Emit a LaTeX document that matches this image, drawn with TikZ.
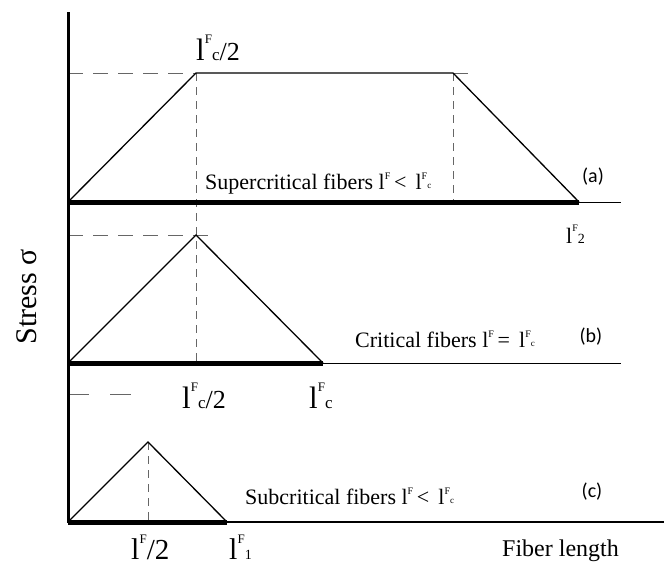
\documentclass[tikz,border=0pt]{standalone}
\usepackage{fontspec}
\setmainfont{Liberation Serif}
\newfontfamily\carl{Carlito}
\newcommand\Lsym[4]{{\fontsize{#1}{#1}\selectfont l}\raisebox{#3}{\fontsize{#2}{#2}\selectfont F}#4}
\newcommand\fs[1]{\fontsize{#1}{#1}\selectfont}
\begin{document}
\begin{tikzpicture}[x=1pt,y=-1pt,
  curve/.style={line width=1.3pt,line join=miter},
  base/.style={line width=5pt},
  thin/.style={line width=1pt},
  guide/.style={line width=1pt,black!60,dash pattern=on 8pt off 6pt},
  hguide/.style={line width=1pt,black!60,dash pattern=on 15pt off 10pt},
  lab/.style={inner sep=0pt,anchor=base west},
  tag/.style={inner sep=0pt,font=\carl\fs{20}}]
\useasboundingbox (0,0) rectangle (664,570);
% coordinates
\coordinate (o) at (68,523);
\coordinate (top) at (68,12);
\coordinate (a0) at (68,202);
\coordinate (a1) at (196,73);
\coordinate (a2) at (453,73);
\coordinate (a3) at (579,202);
\coordinate (aend) at (621,202);
\coordinate (a1b) at (196,363);
\coordinate (a2b) at (453,202);
\coordinate (ah0) at (68,73);
\coordinate (ah1) at (468,73);
\coordinate (b0) at (68,363);
\coordinate (b1) at (196,235);
\coordinate (b2) at (323,363);
\coordinate (bend) at (621,363);
\coordinate (bh0) at (68,235);
\coordinate (bh1) at (218,235);
\coordinate (bb0) at (68,394);
\coordinate (bb1) at (131,394);
\coordinate (c0) at (68,522);
\coordinate (c1) at (148,442);
\coordinate (c2) at (227,522);
\coordinate (cend) at (664,522);
\coordinate (cb) at (148,522);
% guides
\draw[hguide] (ah0) -- (a1);
\draw[hguide] (a2) -- (ah1);
\draw[guide] (a1) -- (a1b);
\draw[guide] (a2) -- (a2b);
\draw[hguide] (bh0) -- (bh1);
\draw[line width=1pt,black!60,dash pattern=on 21pt off 21pt] (bb0) -- (bb1);
\draw[guide] (c1) -- (cb);
% panel a
\draw[thin] (a0) -- (aend);
\draw[base] (a0) -- (a3);
\draw[curve] (a0) -- (a1) -- (a2) -- (a3);
% panel b
\draw[thin] (b0) -- (bend);
\draw[base] (b0) -- (b2);
\draw[curve] (b0) -- (b1) -- (b2);
% panel c
\draw[line width=2.5pt] (c0) -- (cend);
\draw[base] (c0) -- (c2);
\draw[curve] (c0) -- (c1) -- (c2);
% axis
\draw[line width=3pt] (top) -- (o);
% labels
\node[lab] (lta) at (196,60) {\Lsym{31}{13}{17pt}{{\fs{17}c}{\fs{26}/2}}};
\node[lab] (txa) at (205,189) {\fs{22}Supercritical fibers \Lsym{22}{10}{10pt}{}\,<\, \Lsym{22}{10}{10pt}{\raisebox{1pt}{\fs{9}c}}};
\node[tag] (taga) at (593,177) {(a)};
\node[lab] (l2) at (566,243) {\Lsym{22}{10}{12pt}{\raisebox{0pt}{\fs{14}2}}};
\node[lab] (txb) at (355,347) {\fs{22}Critical fibers \Lsym{22}{10}{10pt}{}\,=\, \Lsym{22}{10}{10pt}{\raisebox{1pt}{\fs{9}c}}};
\node[tag] (tagb) at (591,337) {(b)};
\node[lab] (ltb) at (182,408) {\Lsym{31}{13}{17pt}{{\fs{17}c}{\fs{26}/2}}};
\node[lab] (lcb) at (309,408) {\Lsym{31}{13}{17pt}{{\fs{17}c}}};
\node[lab] (txc) at (245,504) {\fs{22}Subcritical fibers \Lsym{22}{10}{10pt}{}\,<\, \Lsym{22}{10}{10pt}{\raisebox{1pt}{\fs{9}c}}};
\node[tag] (tagc) at (592,492) {(c)};
\node[lab] (lh) at (131,559) {\Lsym{30}{13}{16pt}{{\fs{29}/2}}};
\node[lab] (l1) at (229,559) {\Lsym{30}{13}{16pt}{{\fs{14}1}}};
\node[lab] (fl) at (502,556) {\fs{24}Fiber length};
\node[inner sep=0pt,rotate=90] (st) at (27,297) {\fs{30}Stress σ};
\end{tikzpicture}
\end{document}
